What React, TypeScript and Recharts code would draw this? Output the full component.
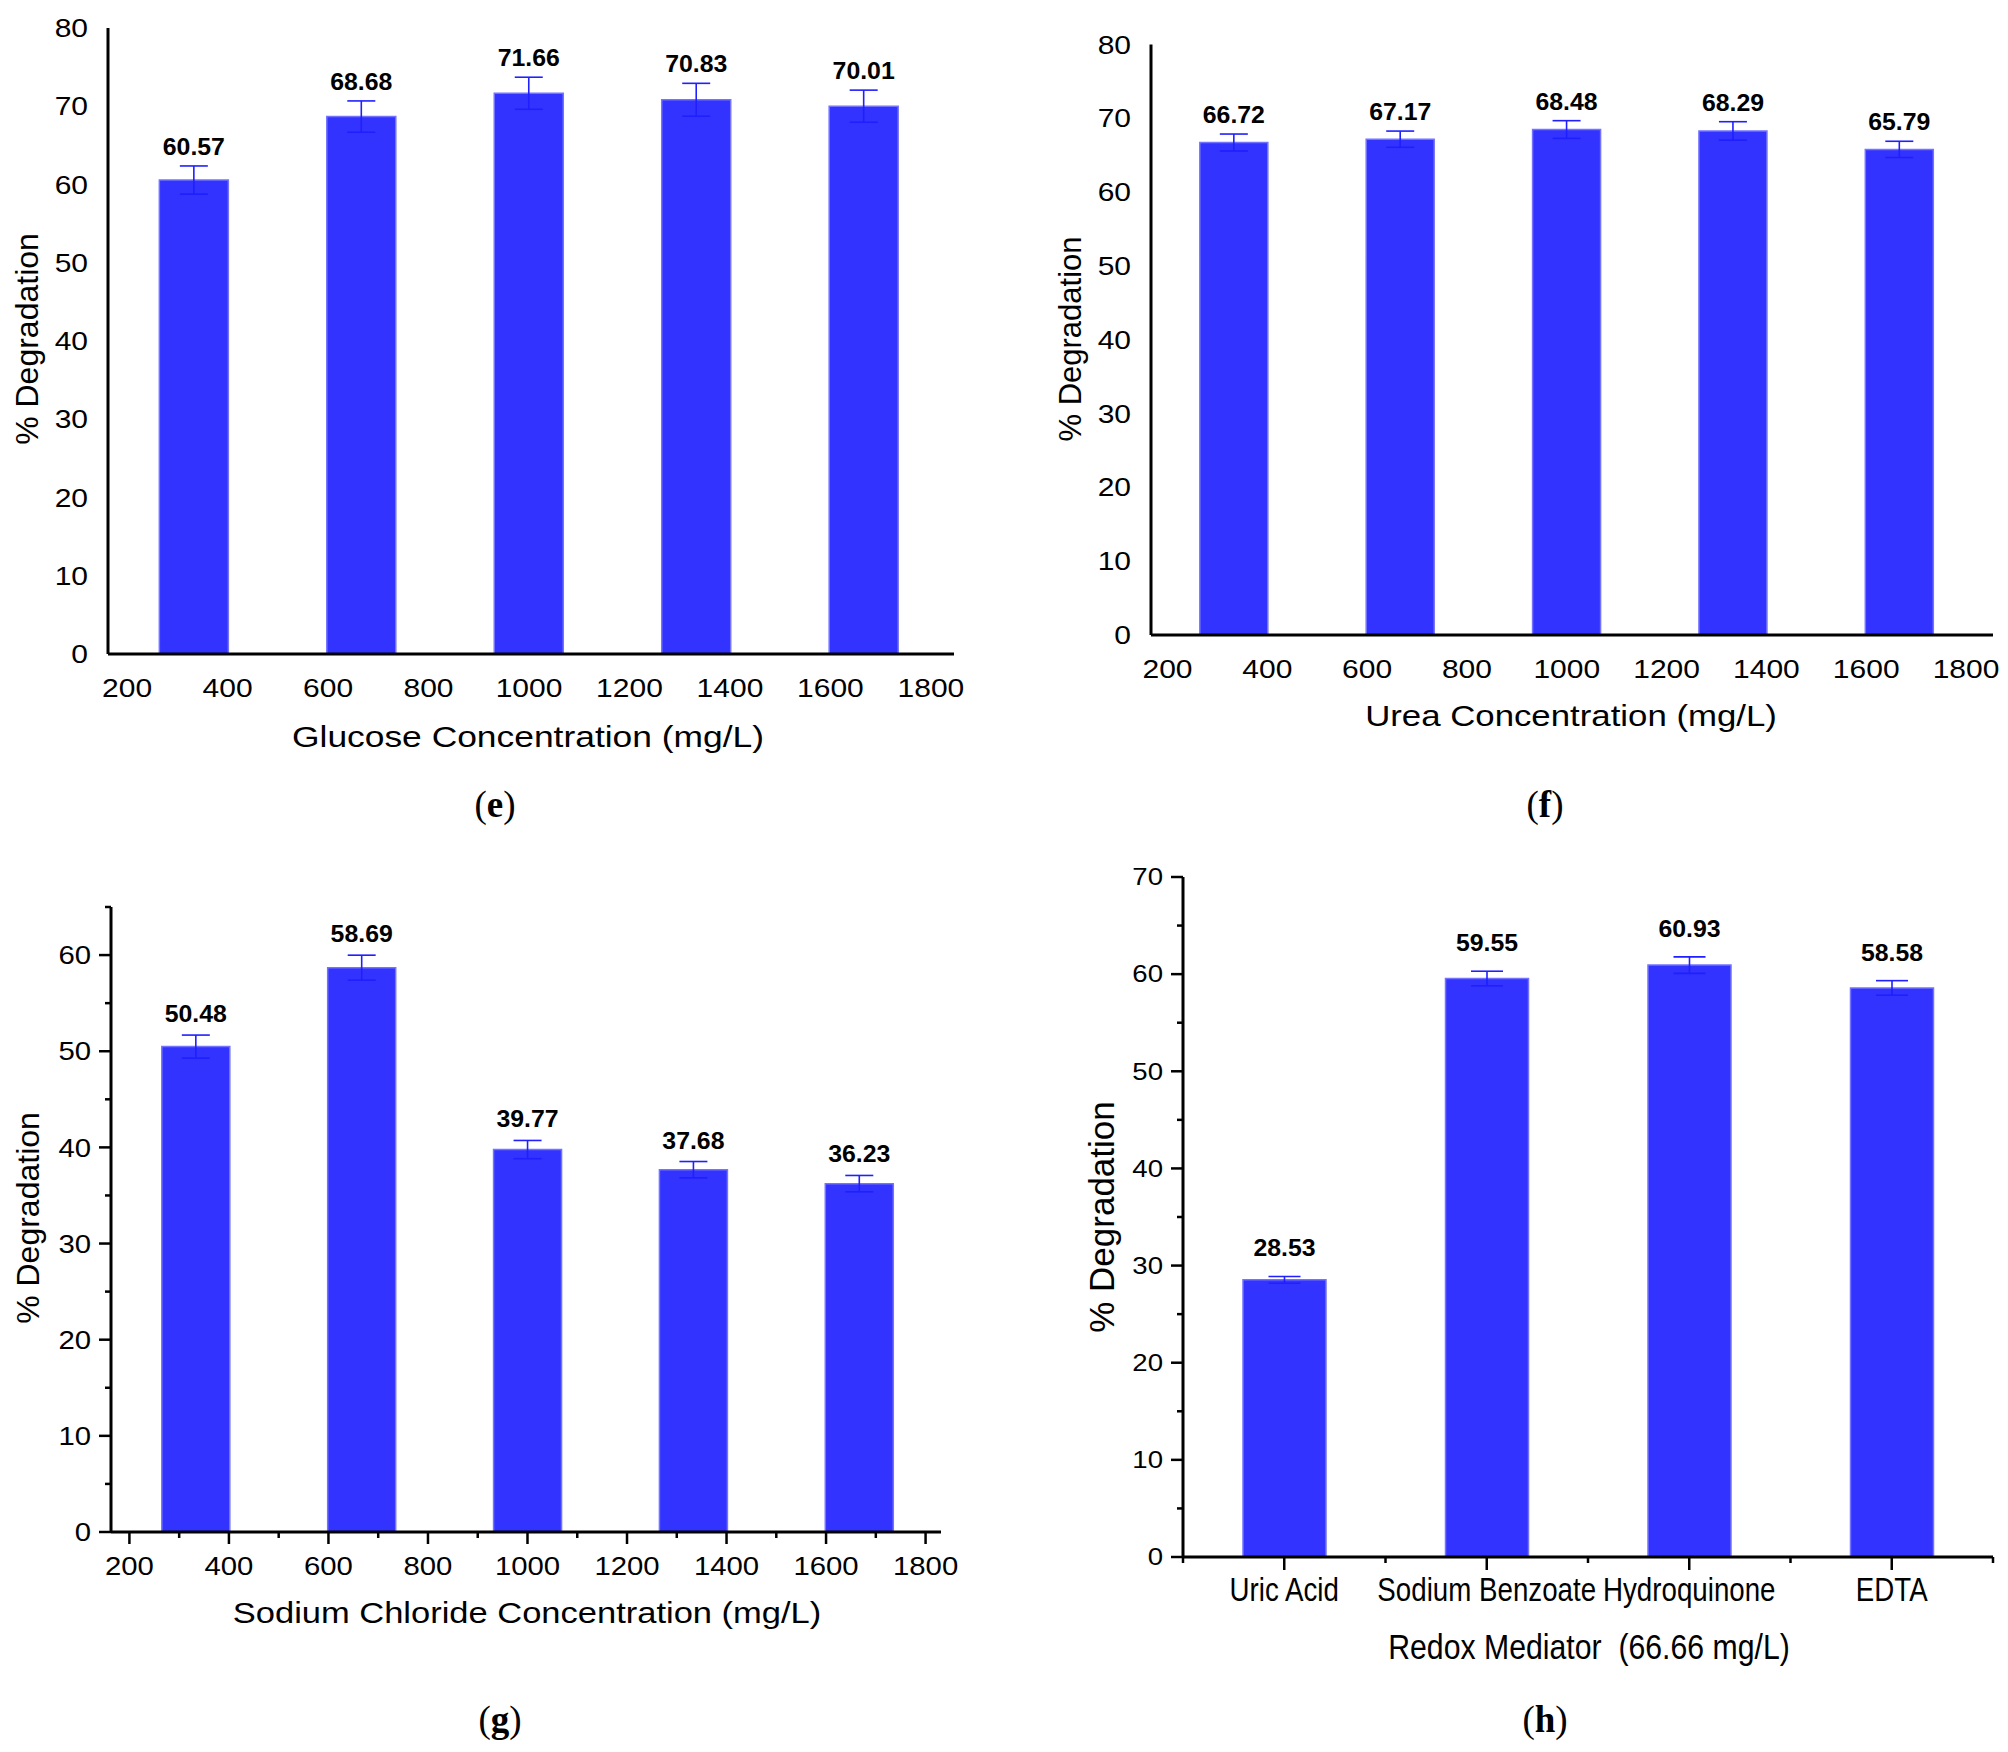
import React from 'react';
import { ComposedChart, Bar, XAxis, YAxis, ErrorBar, LabelList } from 'recharts';

const FONT = '"Liberation Sans", Arial, Helvetica, sans-serif';
const SERIF = '"Liberation Serif", "Times New Roman", serif';
const BAR_FILL = '#3333ff';
const BAR_EDGE = '#7373ff';
const ERR_COLOR = '#1f1fff';

// concentrations used in (e), (f), (g) - mg/L
const concentrations = [333.33, 666.66, 1000, 1333.33, 1666.66];
const concTicks = [200, 400, 600, 800, 1000, 1200, 1400, 1600, 1800];
const concTicksWithMinor = [200, 300, 400, 500, 600, 700, 800, 900, 1000, 1100, 1200, 1300, 1400, 1500, 1600, 1700, 1800];

const glucoseDeg = [60.57, 68.68, 71.66, 70.83, 70.01];
const glucoseErr = [1.8, 2.0, 2.05, 2.1, 2.05];

const ureaDeg = [66.72, 67.17, 68.48, 68.29, 65.79];
const ureaErr = [1.15, 1.1, 1.2, 1.25, 1.1];

const naclDeg = [50.48, 58.69, 39.77, 37.68, 36.23];
const naclErr = [1.2, 1.3, 0.95, 0.85, 0.85];

const mediators = ['Uric Acid', 'Sodium Benzoate', 'Hydroquinone', 'EDTA'];
const mediatorDeg = [28.53, 59.55, 60.93, 58.58];
const mediatorErr = [0.35, 0.75, 0.85, 0.75];

const yTicks80 = [0, 10, 20, 30, 40, 50, 60, 70, 80];
const yTicks65 = [0, 5, 10, 15, 20, 25, 30, 35, 40, 45, 50, 55, 60, 65];
const yTicks70 = [0, 5, 10, 15, 20, 25, 30, 35, 40, 45, 50, 55, 60, 65, 70];

const rows = (xs: (number | string)[], vals: number[], errs: number[]) =>
  xs.map((x, i) => ({ x, value: vals[i], err: errs[i] }));

// ---- tick renderers ----
const yTick = (o: { fs: number; sx: number; gap: number; marks: boolean }) => (p: any) => {
  const { x, y, payload } = p;
  const v = Number(payload.value);
  const major = v % 10 === 0;
  return (
    <g>
      {o.marks && <line x1={x} x2={x - (major ? 12 : 6)} y1={y} y2={y} stroke="#000" strokeWidth={2.5} />}
      {major && (
        <text transform={`translate(${x - o.gap},${y + o.fs * 0.36}) scale(${o.sx},1)`} textAnchor="end"
          fontSize={o.fs} fontFamily={FONT} fill="#000">{v}</text>
      )}
    </g>
  );
};

const xNumTick = (o: { fs: number; sx: number; dy: number; marks: boolean }) => (p: any) => {
  const { x, y, payload } = p;
  const v = Number(payload.value);
  const major = v % 200 === 0;
  return (
    <g>
      {o.marks && <line x1={x} x2={x} y1={y} y2={y + (major ? 12 : 6)} stroke="#000" strokeWidth={2.5} />}
      {major && (
        <text transform={`translate(${x},${y + o.dy}) scale(${o.sx},1)`} textAnchor="middle"
          fontSize={o.fs} fontFamily={FONT} fill="#000">{v}</text>
      )}
    </g>
  );
};

const xCatTick = (band: number) => (p: any) => {
  const { x, y, payload } = p;
  const i = mediators.indexOf(payload.value);
  return (
    <g>
      <line x1={x} x2={x} y1={y} y2={y + 13} stroke="#000" strokeWidth={2.5} />
      <line x1={x - band / 2} x2={x - band / 2} y1={y} y2={y + 6} stroke="#000" strokeWidth={2.5} />
      {i === mediators.length - 1 && (
        <line x1={x + band / 2} x2={x + band / 2} y1={y} y2={y + 6} stroke="#000" strokeWidth={2.5} />
      )}
      <text transform={`translate(${x},${y + 44}) scale(0.84,1)`} textAnchor="middle"
        fontSize={33} fontFamily={FONT} fill="#000">{payload.value}</text>
    </g>
  );
};

// value label sitting above the error bar cap
const barLabel = (values: number[], errs: number[], gap: number) => (props: any) => {
  const vb = props.viewBox || props;
  const { x, y, width, height } = vb;
  const v = Number(props.value);
  const i = typeof props.index === 'number' ? props.index : values.indexOf(v);
  const pxPerUnit = Math.abs(height) / v;
  const base = y - errs[i] * pxPerUnit - gap;
  return (
    <text transform={`translate(${x + width / 2},${base}) scale(1.08,1)`} textAnchor="middle"
      fontSize={23} fontWeight="bold" fontFamily={FONT} fill="#000">{v.toFixed(2)}</text>
  );
};

interface PanelProps {
  left: number; top: number; width: number; height: number;
  plot: { l: number; t: number; r: number; b: number };
  data: any[];
  category?: boolean;
  xDomain?: number[];
  xTicks?: number[];
  yDomain: number[];
  yTicks: number[];
  values: number[];
  errs: number[];
  barSize: number;
  capWidth: number;
  labelGap: number;
  yTickRender: (p: any) => React.ReactElement;
  xTickRender: (p: any) => React.ReactElement;
}

const Panel: React.FC<PanelProps> = (p) => {
  const xh = 60;
  const margin = { top: p.plot.t, right: p.width - p.plot.r, bottom: p.height - p.plot.b - xh, left: 0 };
  return (
    <div style={{ position: 'absolute', left: p.left, top: p.top }}>
      <ComposedChart width={p.width} height={p.height} data={p.data} margin={margin}>
        {p.category ? (
          <XAxis dataKey="x" type="category" height={xh} interval={0} tickSize={0} tickMargin={0}
            tick={p.xTickRender} axisLine={{ stroke: '#000', strokeWidth: 3 }} tickLine={false} />
        ) : (
          <XAxis dataKey="x" type="number" domain={p.xDomain} allowDataOverflow ticks={p.xTicks} height={xh}
            interval={0} tickSize={0} tickMargin={0} tick={p.xTickRender}
            axisLine={{ stroke: '#000', strokeWidth: 3 }} tickLine={false} />
        )}
        <YAxis type="number" domain={p.yDomain} allowDataOverflow ticks={p.yTicks} width={p.plot.l}
          interval={0} tickSize={0} tickMargin={0} tick={p.yTickRender}
          axisLine={{ stroke: '#000', strokeWidth: 3 }} tickLine={false} />
        <Bar dataKey="value" barSize={p.barSize} fill={BAR_FILL} stroke={BAR_EDGE} strokeWidth={1.5}
          isAnimationActive={false}>
          <ErrorBar dataKey="err" width={p.capWidth} stroke={ERR_COLOR} strokeWidth={1.6} direction="y" />
          <LabelList dataKey="value" content={barLabel(p.values, p.errs, p.labelGap)} />
        </Bar>
      </ComposedChart>
    </div>
  );
};

const XTitle = ({ x, y, fs, sx, children }: any) => (
  <text transform={`translate(${x},${y}) scale(${sx},1)`} textAnchor="middle" fontSize={fs}
    fontFamily={FONT} fill="#000" style={{ whiteSpace: 'pre' }}>{children}</text>
);

const YTitle = ({ x, y, fs }: any) => (
  <text transform={`translate(${x},${y}) rotate(-90)`} textAnchor="middle" fontSize={fs}
    fontFamily={FONT} fill="#000">% Degradation</text>
);

const Letter = ({ x, y, ch }: any) => (
  <text x={x} y={y} textAnchor="middle" fontSize={37} fontFamily={SERIF} fill="#000">
    (<tspan fontWeight="bold">{ch}</tspan>)
  </text>
);

const bigTicks = { fs: 25, sx: 1.2, gap: 20, marks: false };

export default function App() {
  return (
    <div style={{ position: 'absolute', left: 0, top: 0, width: 2008, height: 1752, background: '#fff' }}>
      <Panel left={0} top={0} width={1004} height={760}
        plot={{ l: 108, t: 28, r: 954, b: 654 }}
        data={rows(concentrations, glucoseDeg, glucoseErr)} xDomain={[162, 1846]} xTicks={concTicks}
        yDomain={[0, 80]} yTicks={yTicks80} values={glucoseDeg} errs={glucoseErr}
        barSize={69} capWidth={14} labelGap={11}
        yTickRender={yTick(bigTicks)} xTickRender={xNumTick({ fs: 25, sx: 1.2, dy: 42.5, marks: false })} />
      <Panel left={1004} top={0} width={1004} height={760}
        plot={{ l: 147, t: 44.5, r: 989, b: 635 }}
        data={rows(concentrations, ureaDeg, ureaErr)} xDomain={[167, 1854]} xTicks={concTicks}
        yDomain={[0, 80]} yTicks={yTicks80} values={ureaDeg} errs={ureaErr}
        barSize={68} capWidth={14} labelGap={11}
        yTickRender={yTick(bigTicks)} xTickRender={xNumTick({ fs: 25, sx: 1.2, dy: 42.5, marks: false })} />
      <Panel left={0} top={876} width={1004} height={760}
        plot={{ l: 111, t: 31, r: 941, b: 656 }}
        data={rows(concentrations, naclDeg, naclErr)} xDomain={[163, 1831]} xTicks={concTicksWithMinor}
        yDomain={[0, 65]} yTicks={yTicks65} values={naclDeg} errs={naclErr}
        barSize={68} capWidth={14} labelGap={13}
        yTickRender={yTick({ fs: 25.5, sx: 1.15, gap: 20, marks: true })}
        xTickRender={xNumTick({ fs: 25.5, sx: 1.15, dy: 43, marks: true })} />
      <Panel left={1004} top={846} width={1004} height={790}
        plot={{ l: 179, t: 31, r: 989, b: 711 }}
        data={rows(mediators, mediatorDeg, mediatorErr)} category
        yDomain={[0, 70]} yTicks={yTicks70} values={mediatorDeg} errs={mediatorErr}
        barSize={83} capWidth={16} labelGap={20}
        yTickRender={yTick({ fs: 23, sx: 1.2, gap: 20, marks: true })} xTickRender={xCatTick(202.5)} />

      <svg width={2008} height={1752} style={{ position: 'absolute', left: 0, top: 0, pointerEvents: 'none' }}>
        <XTitle x={528} y={747} fs={30} sx={1.18}>Glucose Concentration (mg/L)</XTitle>
        <XTitle x={1571} y={726} fs={30} sx={1.16}>Urea Concentration (mg/L)</XTitle>
        <XTitle x={527} y={1623} fs={30} sx={1.15}>Sodium Chloride Concentration (mg/L)</XTitle>
        <XTitle x={1589} y={1659} fs={36} sx={0.84}>{'Redox Mediator\u00a0 (66.66 mg/L)'}</XTitle>
        <YTitle x={37.5} y={339} fs={32} />
        <YTitle x={1081} y={339} fs={31} />
        <YTitle x={38.5} y={1218} fs={32} />
        <YTitle x={1113.5} y={1217} fs={35} />
        <Letter x={495} y={817} ch="e" />
        <Letter x={1545} y={817} ch="f" />
        <Letter x={500} y={1732} ch="g" />
        <Letter x={1545} y={1732} ch="h" />
      </svg>
    </div>
  );
}
